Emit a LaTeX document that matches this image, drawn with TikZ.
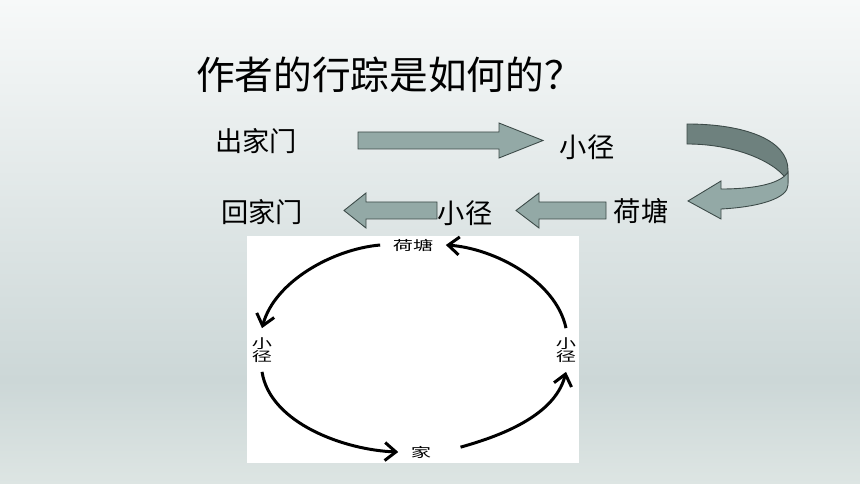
\documentclass[tikz,border=0pt]{standalone}
\usepackage{fontspec}
\setmainfont{Noto Sans CJK SC}
\usetikzlibrary{arrows.meta}

\definecolor{bgtop}{HTML}{F7F9F9}
\definecolor{bgmid}{HTML}{CCD7D7}
\definecolor{bgbot}{HTML}{DDE5E3}
\definecolor{arrowfill}{HTML}{93A9A6}
\definecolor{arrowdark}{HTML}{6E817E}
\definecolor{arrowline}{HTML}{3C4A48}

\begin{document}
\begin{tikzpicture}[x=0.02cm, y=0.02cm,
    rowtext/.style={font=\fontsize{15.5}{18}\selectfont, inner sep=0pt},
    blockarrow/.style={fill=arrowfill, draw=arrowline, line width=0.5pt},
    ringtext/.style={font=\fontsize{11.5}{11.5}\selectfont, yscale=0.65, inner xsep=7pt, inner ysep=8pt, align=center},
    ringarrow/.style={line width=1.7pt, looseness=0.85, -{Straight Barb[length=2.2mm,width=3.6mm]}}]
    \useasboundingbox (0,0) rectangle (860,484);

    % Background
    \shade[top color=bgmid, bottom color=bgbot] (0,0) rectangle (860,104);
    \shade[top color=bgtop, bottom color=bgmid] (0,104) rectangle (860,484.5);

    % Question
    \node[anchor=west, font=\fontsize{22}{26}\selectfont] (question) at (190,409) {作者的行踪是如何的？};

    % Upper row
    \node[rowtext] (out) at (256,343) {出家门};
    \node[rowtext] (path1) at (587,337) {小径};
    \draw[blockarrow] (358,352) -- (499,352) -- (499,361) -- (543,343.5) -- (499,326) -- (499,335) -- (358,335) -- cycle;

    % Turning arrow (back side, then front side)
    \draw[blockarrow, fill=arrowdark] (687,360) .. controls (745,360) and (788,344) .. (788,314) -- (788,302) .. controls (780,319) and (740,340) .. (687,340) -- cycle;
    \draw[blockarrow] (788,312) .. controls (780,299) and (750,295) .. (721,295) -- (721,303) -- (688,283) -- (721,265) -- (721,275) .. controls (760,277) and (788,286) .. (788,299) -- cycle;

    % Lower row
    \node[rowtext] (back) at (262,272) {回家门};
    \node[rowtext] (path2) at (465,271) {小径};
    \node[rowtext] (pond) at (641,273) {荷塘};
    \draw[blockarrow] (606,282) -- (539,282) -- (539,291) -- (516,273.5) -- (539,256) -- (539,265) -- (606,265) -- cycle;
    \draw[blockarrow] (437,282) -- (366,282) -- (366,291) -- (344,273.5) -- (366,256) -- (366,265) -- (437,265) -- cycle;

    % Ring picture
    \fill[white] (247,21) rectangle (579,248);
    \node[ringtext] (rpond) at (413,239) {荷塘};
    \node[ringtext] (rleft) at (262,134) {小\\径};
    \node[ringtext] (rright) at (566,134) {小\\径};
    \node[ringtext] (rhome) at (421,32) {家};
    \draw[ringarrow] (rpond.west) to[out=185, in=75] (rleft.north);
    \draw[ringarrow] (rleft.south) to[out=-81, in=178] (rhome.west);
    \draw[ringarrow, shorten <=0.35cm] (rhome.east) to[out=16, in=256] (rright.south);
    \draw[ringarrow] (rright.north) to[out=102, in=-4] (rpond.east);
\end{tikzpicture}
\end{document}
